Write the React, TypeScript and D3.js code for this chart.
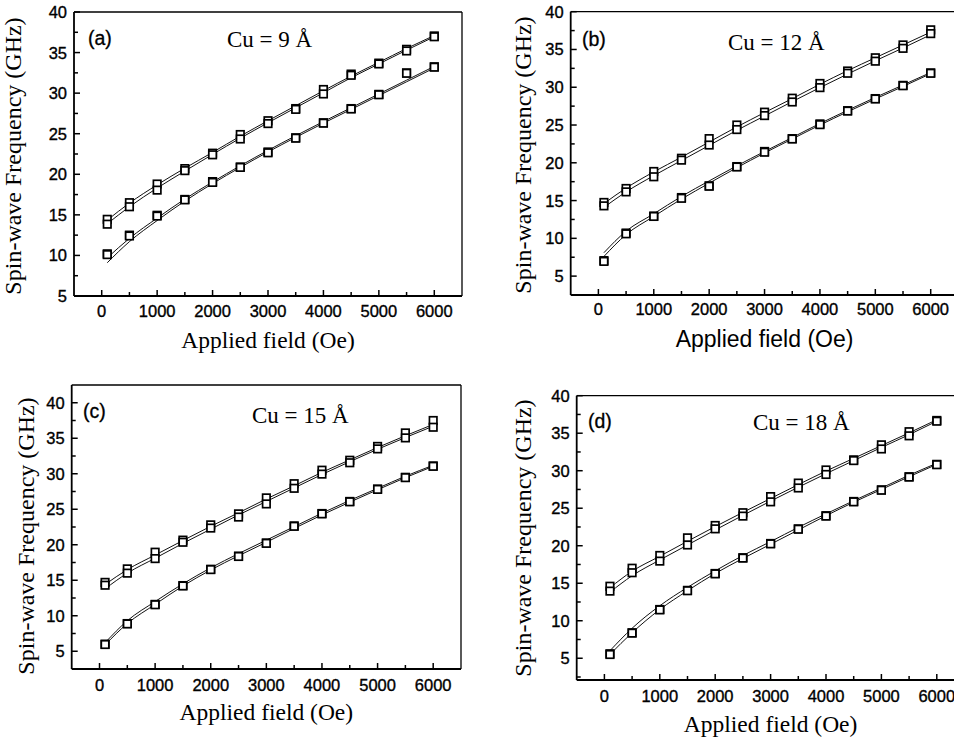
import React from "react";
import * as d3 from "d3";

// ---------- DATA ----------
const fieldOe = [100, 500, 1000, 1500, 2000, 2500, 3000, 3500, 4000, 4500, 5000, 5500, 6000];
const yTicks = [5, 10, 15, 20, 25, 30, 35, 40];
const xTicks = [0, 1000, 2000, 3000, 4000, 5000, 6000];

// (a) Cu = 9 Å
const aUpper1 = [14.45, 16.5, 18.8, 20.7, 22.6, 24.9, 26.6, 28.1, 30.45, 32.35, 33.7, 35.4, 37.05];
const aUpper2 = [13.85, 16.0, 18.05, 20.45, 22.4, 24.35, 26.25, 28.0, 29.9, 32.2, 33.6, 35.2, 36.95];
const aLower1 = [10.2, 12.5, 14.95, 16.9, 19.1, 20.9, 22.75, 24.5, 26.35, 28.1, 29.85, 32.5, 33.25];
const aLower2 = [10.1, 12.4, 14.85, 16.85, 19.0, 20.85, 22.65, 24.45, 26.3, 28.05, 29.8, 32.45, 33.2];
const aFitU1 = [14.35, 16.45, 18.7, 20.75, 22.7, 24.7, 26.6, 28.45, 30.3, 32.1, 33.8, 35.5, 37.1];
const aFitU2 = [13.9, 16.0, 18.3, 20.4, 22.45, 24.45, 26.35, 28.2, 30.05, 31.9, 33.6, 35.3, 36.95];
const aFitL1 = [9.7, 12.1, 14.6, 16.95, 19.05, 21.05, 22.95, 24.75, 26.5, 28.2, 29.9, 31.6, 33.3];
const aFitL2 = [9.1, 11.7, 14.3, 16.7, 18.85, 20.85, 22.75, 24.55, 26.3, 28.0, 29.7, 31.4, 33.1];

// (b) Cu = 12 Å
const bUpper1 = [14.75, 16.6, 18.85, 20.6, 23.2, 25.0, 26.7, 28.55, 30.5, 32.15, 33.9, 35.6, 37.6];
const bUpper2 = [14.3, 16.15, 18.15, 20.35, 22.35, 24.4, 26.25, 28.05, 29.95, 31.85, 33.45, 35.15, 37.1];
const bLower1 = [7.05, 10.7, 12.95, 15.4, 16.95, 19.5, 21.5, 23.2, 25.15, 26.9, 28.5, 30.25, 31.9];
const bLower2 = [6.95, 10.6, 12.9, 15.3, 16.9, 19.45, 21.4, 23.15, 25.05, 26.85, 28.45, 30.2, 31.85];
const bFitU1 = [14.6, 16.65, 18.8, 20.75, 22.75, 24.75, 26.65, 28.5, 30.4, 32.2, 33.9, 35.6, 37.3];
const bFitU2 = [14.1, 16.15, 18.3, 20.3, 22.3, 24.3, 26.2, 28.1, 29.95, 31.75, 33.5, 35.2, 36.95];
const bFitL1 = [8.1, 10.95, 13.25, 15.55, 17.6, 19.6, 21.5, 23.35, 25.2, 26.95, 28.65, 30.3, 31.95];
const bFitL2 = [7.6, 10.5, 12.9, 15.2, 17.3, 19.35, 21.3, 23.15, 25.0, 26.75, 28.45, 30.1, 31.8];

// (c) Cu = 15 Å
const cUpper1 = [14.7, 16.6, 18.95, 20.65, 22.8, 24.35, 26.6, 28.6, 30.5, 31.9, 33.85, 35.75, 37.5];
const cUpper2 = [14.3, 16.0, 18.05, 20.35, 22.35, 23.9, 25.75, 27.95, 29.95, 31.55, 33.5, 35.05, 36.55];
const cLower1 = [6.0, 8.9, 11.6, 14.25, 16.55, 18.4, 20.25, 22.65, 24.4, 26.1, 27.85, 29.5, 31.1];
const cLower2 = [5.95, 8.85, 11.55, 14.2, 16.5, 18.35, 20.2, 22.6, 24.35, 26.05, 27.8, 29.45, 31.05];
const cFitU1 = [14.4, 16.5, 18.55, 20.6, 22.6, 24.5, 26.45, 28.3, 30.2, 31.95, 33.7, 35.35, 36.95];
const cFitU2 = [13.8, 16.0, 18.1, 20.2, 22.2, 24.2, 26.1, 28.0, 29.9, 31.7, 33.45, 35.1, 36.7];
const cFitL1 = [6.2, 9.3, 12.0, 14.5, 16.75, 18.75, 20.65, 22.55, 24.45, 26.25, 27.95, 29.65, 31.2];
const cFitL2 = [5.9, 8.9, 11.6, 14.2, 16.45, 18.45, 20.35, 22.3, 24.2, 26.0, 27.75, 29.45, 31.05];

// (d) Cu = 18 Å
const dUpper1 = [14.6, 17.0, 18.7, 21.05, 22.7, 24.4, 26.55, 28.35, 30.1, 31.45, 33.45, 35.2, 36.7];
const dUpper2 = [13.95, 16.4, 17.95, 20.1, 22.25, 23.95, 25.85, 27.7, 29.5, 31.35, 32.9, 34.65, 36.6];
const dLower1 = [5.6, 8.4, 11.5, 14.05, 16.3, 18.4, 20.3, 22.25, 24.0, 25.9, 27.45, 29.2, 30.85];
const dLower2 = [5.5, 8.35, 11.45, 14.0, 16.25, 18.35, 20.25, 22.2, 23.95, 25.85, 27.4, 29.15, 30.8];
const dFitU1 = [14.4, 16.6, 18.6, 20.6, 22.55, 24.45, 26.3, 28.15, 29.95, 31.65, 33.35, 35.05, 36.8];
const dFitU2 = [13.8, 16.0, 18.1, 20.1, 22.1, 24.05, 25.95, 27.8, 29.6, 31.35, 33.1, 34.8, 36.6];
const dFitL1 = [6.0, 9.0, 12.0, 14.45, 16.65, 18.7, 20.55, 22.45, 24.25, 26.0, 27.7, 29.4, 31.0];
const dFitL2 = [5.5, 8.4, 11.5, 14.0, 16.3, 18.3, 20.2, 22.1, 24.0, 25.8, 27.5, 29.2, 30.85];

const panelTags = ["(a)", "(b)", "(c)", "(d)"];
const panelCu = ["Cu = 9 Å", "Cu = 12 Å", "Cu = 15 Å", "Cu = 18 Å"];
const yTitle = "Spin-wave Frequency (GHz)";
const xTitle = "Applied field (Oe)";

const SANS = "'Liberation Sans', Arial, Helvetica, sans-serif";
const SERIF = "'Liberation Serif', 'Times New Roman', Times, serif";

type PanelCfg = {
  x0: number; x1: number; y0: number; y1: number;
  yDom: [number, number];
  yTitleX: number; yTitleY: number;
  xTickY: number; xTitleY: number; xTitleFont: string; xTitleSize: number;
  tagX: number; tagY: number; cuX: number; cuY: number;
  series: number[][]; fits: number[][];
  tag: string; cu: string;
};

const panels: PanelCfg[] = [
  { x0: 74, x1: 462, y0: 12, y1: 296, yDom: [5, 40], yTitleX: 21, yTitleY: 156, xTickY: 317, xTitleY: 348, xTitleFont: SERIF, xTitleSize: 23.5,
    tagX: 88, tagY: 45, cuX: 227, cuY: 47, series: [aUpper1, aUpper2, aLower1, aLower2], fits: [aFitU1, aFitU2, aFitL1, aFitL2], tag: panelTags[0], cu: panelCu[0] },
  { x0: 570.7, x1: 958.4, y0: 11.7, y1: 295, yDom: [2.5, 40], yTitleX: 531, yTitleY: 155, xTickY: 315, xTitleY: 347, xTitleFont: SANS, xTitleSize: 23,
    tagX: 582, tagY: 46, cuX: 728, cuY: 50, series: [bUpper1, bUpper2, bLower1, bLower2], fits: [bFitU1, bFitU2, bFitL1, bFitL2], tag: panelTags[1], cu: panelCu[1] },
  { x0: 71.7, x1: 461, y0: 385, y1: 669, yDom: [2.5, 42.5], yTitleX: 34, yTitleY: 536, xTickY: 691, xTitleY: 720, xTitleFont: SERIF, xTitleSize: 23.5,
    tagX: 83, tagY: 418, cuX: 252, cuY: 423, series: [cUpper1, cUpper2, cLower1, cLower2], fits: [cFitU1, cFitU2, cFitL1, cFitL2], tag: panelTags[2], cu: panelCu[2] },
  { x0: 576.7, x1: 964.5, y0: 395.7, y1: 680, yDom: [2.1, 40], yTitleX: 531, yTitleY: 538, xTickY: 702, xTitleY: 732, xTitleFont: SERIF, xTitleSize: 23.5,
    tagX: 588, tagY: 428, cuX: 753, cuY: 430, series: [dUpper1, dUpper2, dLower1, dLower2], fits: [dFitU1, dFitU2, dFitL1, dFitL2], tag: panelTags[3], cu: panelCu[3] },
];

function Panel({ p }: { p: PanelCfg }) {
  const x = d3.scaleLinear().domain([-500, 6500]).range([p.x0, p.x1]);
  const y = d3.scaleLinear().domain(p.yDom).range([p.y1, p.y0]);
  const line = d3
    .line<[number, number]>()
    .x((d) => x(d[0]))
    .y((d) => y(d[1]))
    .curve(d3.curveMonotoneX);

  const yMinor = d3.range(2.5, 45, 5).filter((v) => v > p.yDom[0] + 0.2 && v < p.yDom[1] - 0.2);
  const yMajor = yTicks.filter((v) => v >= p.yDom[0] && v <= p.yDom[1]);
  const xMinor = d3.range(-500, 6500, 1000).filter((v) => v > -500);
  const xRight = Math.min(p.x1, 954);
  const sq = 7.5;

  return (
    <g>
      {p.fits.map((f, i) => (
        <path key={"f" + i} d={line(fieldOe.map((xv, j) => [xv, f[j]]) as [number, number][]) || ""}
          fill="none" stroke="#111" strokeWidth={1} />
      ))}
      {p.series.map((s, i) =>
        s.map((v, j) => (
          <rect key={"s" + i + "-" + j} x={x(fieldOe[j]) - sq / 2} y={y(v) - sq / 2} width={sq} height={sq}
            fill="white" stroke="#000" strokeWidth={1.7} />
        ))
      )}
      <line x1={p.x0} x2={p.x0} y1={p.y0} y2={p.y1} stroke="#000" strokeWidth={1.8} />
      <line x1={p.x0} x2={xRight} y1={p.y1} y2={p.y1} stroke="#000" strokeWidth={1.8} />
      <line x1={p.x0} x2={xRight} y1={p.y0} y2={p.y0} stroke="#000" strokeWidth={1.3} />
      {p.x1 <= 954 && <line x1={p.x1} x2={p.x1} y1={p.y0} y2={p.y1} stroke="#000" strokeWidth={1.3} />}
      {yMajor.map((v) => (
        <g key={"ym" + v}>
          <line x1={p.x0} x2={p.x0 + 6} y1={y(v)} y2={y(v)} stroke="#000" strokeWidth={1.5} />
          <text x={p.x0 - 7} y={y(v)} dy="0.36em" textAnchor="end" fontFamily={SANS} fontSize={16.5}
            fill="#000" stroke="#000" strokeWidth={0.35}>{v}</text>
        </g>
      ))}
      {yMinor.map((v) => (
        <line key={"yn" + v} x1={p.x0} x2={p.x0 + 4} y1={y(v)} y2={y(v)} stroke="#000" strokeWidth={1.5} />
      ))}
      {xTicks.map((v) => (
        <g key={"xm" + v}>
          <line x1={x(v)} x2={x(v)} y1={p.y1} y2={p.y1 - 6} stroke="#000" strokeWidth={1.5} />
          <text x={x(v)} y={p.xTickY} textAnchor="middle" fontFamily={SANS} fontSize={16.5}
            fill="#000" stroke="#000" strokeWidth={0.35}>{v}</text>
        </g>
      ))}
      {xMinor.map((v) => (
        <line key={"xn" + v} x1={x(v)} x2={x(v)} y1={p.y1} y2={p.y1 - 4} stroke="#000" strokeWidth={1.5} />
      ))}
      <text x={(p.x0 + p.x1) / 2} y={p.xTitleY} textAnchor="middle" fontFamily={p.xTitleFont}
        fontSize={p.xTitleSize} fill="#000">{xTitle}</text>
      <text transform={`translate(${p.yTitleX},${p.yTitleY}) rotate(-90)`} textAnchor="middle"
        fontFamily={SERIF} fontSize={24} fill="#000">{yTitle}</text>
      <text x={p.tagX} y={p.tagY} fontFamily={SANS} fontSize={19.5} fill="#000" stroke="#000" strokeWidth={0.3}>{p.tag}</text>
      <text x={p.cuX} y={p.cuY} fontFamily={SERIF} fontSize={23} fill="#000">{p.cu}</text>
    </g>
  );
}

export default function App() {
  return (
    <svg width={954} height={741} style={{ position: "absolute", left: 0, top: 0, background: "#fff" }}>
      <rect width={954} height={741} fill="#fff" />
      {panels.map((p, i) => (
        <Panel key={i} p={p} />
      ))}
    </svg>
  );
}
